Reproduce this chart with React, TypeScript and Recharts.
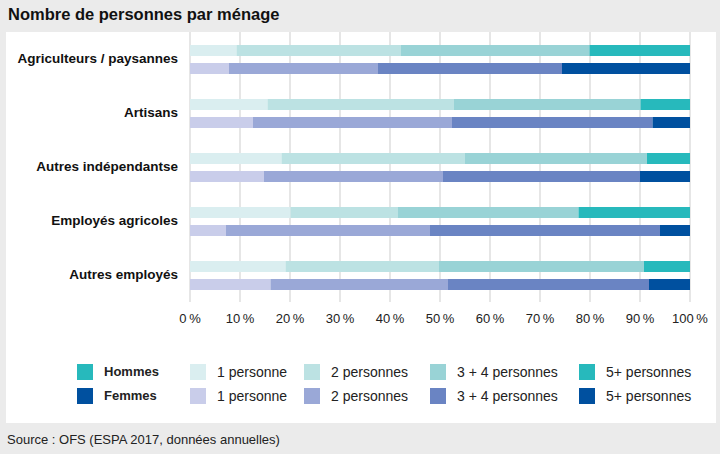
import { BarChart, Bar, XAxis, YAxis, CartesianGrid } from 'recharts'

const categories = ['Agriculteurs / paysannes', 'Artisans', 'Autres indépendantse', 'Employés agricoles', 'Autres employés']

// parts in %
const hommes1 = [9.3, 15.5, 18.3, 20.1, 19.1]
const hommes2 = [32.9, 37.3, 36.7, 21.4, 30.7]
const hommes34 = [37.7, 37.3, 36.4, 36.2, 41.0]
const hommes5 = [20.1, 9.9, 8.6, 22.3, 9.2]
const femmes1 = [7.8, 12.6, 14.8, 7.2, 16.1]
const femmes2 = [29.8, 39.8, 35.8, 40.8, 35.5]
const femmes34 = [36.8, 40.1, 39.4, 46.0, 40.2]
const femmes5 = [25.6, 7.5, 10.0, 6.0, 8.2]

const xTicks = [0, 10, 20, 30, 40, 50, 60, 70, 80, 90, 100]
const sizeLabels = ['1 personne', '2 personnes', '3 + 4 personnes', '5+ personnes']

const hColors = ['#daeef0', '#bce2e3', '#99d3d6', '#27b9bc']
const fColors = ['#c9cdea', '#9aa8d7', '#6a84c3', '#00509f']

const data = categories.map((cat, i) => ({
  cat,
  h1: hommes1[i],
  h2: hommes2[i],
  h3: hommes34[i],
  h4: hommes5[i],
  f1: femmes1[i],
  f2: femmes2[i],
  f3: femmes34[i],
  f4: femmes5[i],
}))

const FONT = '"Liberation Sans", Arial, sans-serif'
const legendX = [190, 304, 430, 579]

function Swatch({ x, y, color }: { x: number; y: number; color: string }) {
  return <div style={{ position: 'absolute', left: x, top: y, width: 16, height: 16, background: color }} />
}

function LegendText({ x, y, bold, children }: { x: number; y: number; bold?: boolean; children: string }) {
  return (
    <div
      style={{
        position: 'absolute',
        left: x,
        top: y,
        height: 16,
        lineHeight: '16px',
        fontSize: bold ? 13 : 14,
        fontWeight: bold ? 700 : 400,
        color: '#222',
        whiteSpace: 'nowrap',
      }}
    >
      {children}
    </div>
  )
}

export default function App() {
  const rows = [
    { label: 'Hommes', colors: hColors, y: 364 },
    { label: 'Femmes', colors: fColors, y: 388 },
  ]
  return (
    <div
      style={{
        position: 'absolute',
        left: 0,
        top: 0,
        width: 720,
        height: 454,
        background: '#ebebeb',
        fontFamily: FONT,
        overflow: 'hidden',
      }}
    >
      <div style={{ position: 'absolute', left: 8, top: 5, fontSize: 16.5, fontWeight: 700, color: '#111' }}>
        Nombre de personnes par ménage
      </div>
      <div style={{ position: 'absolute', left: 6, top: 32, width: 710, height: 391, background: '#fff' }} />
      <div style={{ position: 'absolute', left: 0, top: 0 }}>
        <BarChart
          width={720}
          height={334}
          data={data}
          layout="vertical"
          margin={{ top: 32, right: 30, bottom: 0, left: 0 }}
          barSize={11}
          barGap={7}
        >
          <CartesianGrid horizontal={false} stroke="#e6e6e6" strokeWidth={2} />
          <XAxis
            type="number"
            domain={[0, 100]}
            ticks={xTicks}
            interval={0}
            axisLine={false}
            tickLine={false}
            tickMargin={6}
            height={32}
            tickFormatter={(v: number) => `${v}\u202f%`}
            tick={{ fontSize: 13, fill: '#222', fontFamily: FONT }}
          />
          <YAxis
            type="category"
            dataKey="cat"
            width={190}
            axisLine={false}
            tickLine={false}
            tickSize={0}
            tickMargin={12}
            tick={{ fontSize: 13.5, fontWeight: 700, fill: '#111', fontFamily: FONT, dy: -1 }}
          />
          <Bar dataKey="h1" stackId="h" fill={hColors[0]} isAnimationActive={false} />
          <Bar dataKey="h2" stackId="h" fill={hColors[1]} isAnimationActive={false} />
          <Bar dataKey="h3" stackId="h" fill={hColors[2]} isAnimationActive={false} />
          <Bar dataKey="h4" stackId="h" fill={hColors[3]} isAnimationActive={false} />
          <Bar dataKey="f1" stackId="f" fill={fColors[0]} isAnimationActive={false} />
          <Bar dataKey="f2" stackId="f" fill={fColors[1]} isAnimationActive={false} />
          <Bar dataKey="f3" stackId="f" fill={fColors[2]} isAnimationActive={false} />
          <Bar dataKey="f4" stackId="f" fill={fColors[3]} isAnimationActive={false} />
        </BarChart>
      </div>
      {rows.map((r) => (
        <div key={r.label}>
          <Swatch x={77} y={r.y} color={r.colors[3]} />
          <LegendText x={104} y={r.y} bold>
            {r.label}
          </LegendText>
          {sizeLabels.map((s, i) => (
            <div key={s}>
              <Swatch x={legendX[i]} y={r.y} color={r.colors[i]} />
              <LegendText x={legendX[i] + 27} y={r.y}>
                {s}
              </LegendText>
            </div>
          ))}
        </div>
      ))}
      <div style={{ position: 'absolute', left: 7, top: 432, fontSize: 13, color: '#222' }}>
        Source : OFS (ESPA 2017, données annuelles)
      </div>
    </div>
  )
}
